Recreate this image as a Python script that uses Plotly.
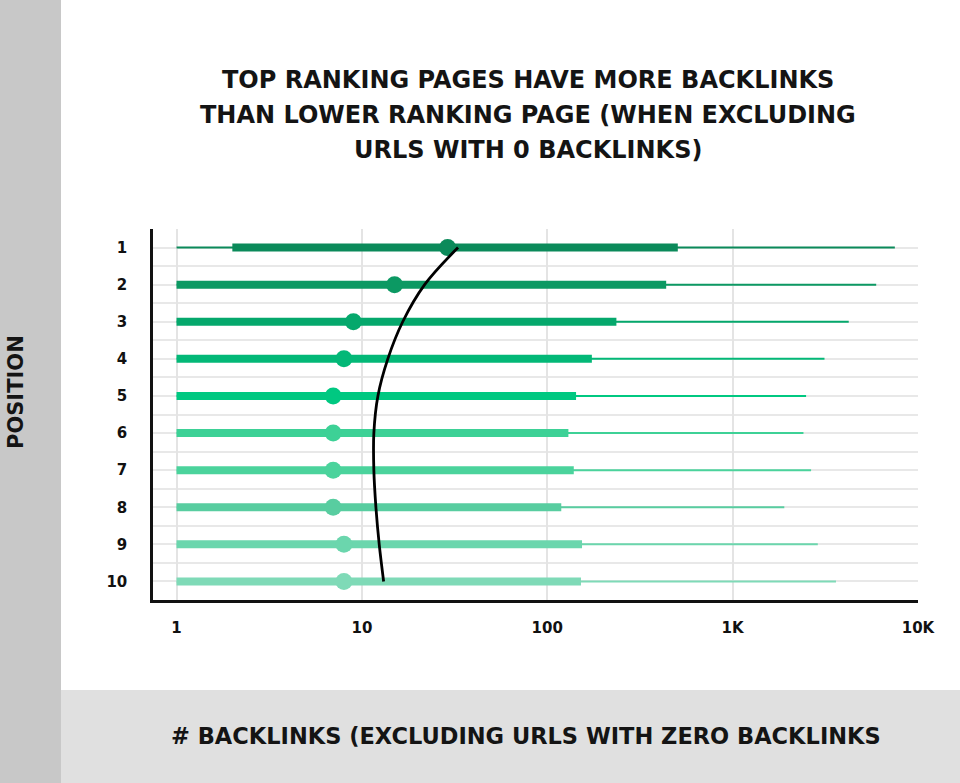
"""Backlinks by SERP position: range, IQR and median per position, log x axis."""

import plotly.graph_objects as go

WIDTH, HEIGHT = 960, 783

positions = [1, 2, 3, 4, 5, 6, 7, 8, 9, 10]
low = [1, 1, 1, 1, 1, 1, 1, 1, 1, 1]
q1 = [2, 1, 1, 1, 1, 1, 1, 1, 1, 1]
median = [29, 15, 9, 8, 7, 7, 7, 7, 8, 8]
q3 = [506, 438, 236, 174, 143, 130, 139, 119, 154, 152]
high = [7500, 5950, 4230, 3130, 2490, 2410, 2650, 1900, 2880, 3610]
trend = [33, 21.8, 16.6, 13.8, 12.2, 11.6, 11.6, 11.9, 12.4, 13.1]

row_colors = [
    "#0b8a5a", "#0c9963", "#05a86c", "#03b877", "#00c881",
    "#3dd196", "#4bd39c", "#58cda0", "#6bd6ad", "#7fdab7",
]

x_tickvals = [1, 10, 100, 1000, 10000]
x_ticktext = ["1", "10", "100", "1K", "10K"]

title_lines = [
    "TOP RANKING PAGES HAVE MORE BACKLINKS",
    "THAN LOWER RANKING PAGE (WHEN EXCLUDING",
    "URLS WITH 0 BACKLINKS)",
]
x_title = "# BACKLINKS (EXCLUDING URLS WITH ZERO BACKLINKS"
y_title = "POSITION"

# plot area in pixels
M_L, M_R, M_T, M_B = 153, 42, 229, 183
PLOT_W = WIDTH - M_L - M_R
PLOT_H = HEIGHT - M_T - M_B

FONT = "DejaVu Sans"
INK = "#141414"


def px_x(px):
    return (px - M_L) / PLOT_W


def px_y(py):
    return (HEIGHT - M_B - py) / PLOT_H


fig = go.Figure()

for i, pos in enumerate(positions):
    c = row_colors[i]
    fig.add_trace(go.Scatter(
        x=[low[i], high[i]], y=[pos, pos], mode="lines",
        line=dict(color=c, width=2), hoverinfo="skip",
    ))
    fig.add_trace(go.Scatter(
        x=[q1[i], q3[i]], y=[pos, pos], mode="lines",
        line=dict(color=c, width=8), hoverinfo="skip",
    ))
    fig.add_trace(go.Scatter(
        x=[median[i]], y=[pos], mode="markers",
        marker=dict(color=c, size=17), hoverinfo="skip",
    ))

fig.add_trace(go.Scatter(
    x=trend, y=positions, mode="lines",
    line=dict(color="black", width=2.8, shape="spline", smoothing=1.0),
    hoverinfo="skip",
))

shapes = [
    # left grey band
    dict(type="rect", xref="paper", yref="paper", layer="below",
         x0=px_x(0), x1=px_x(61), y0=px_y(HEIGHT), y1=px_y(0),
         fillcolor="#c8c8c8", line_width=0),
    # bottom grey band
    dict(type="rect", xref="paper", yref="paper", layer="below",
         x0=px_x(61), x1=px_x(WIDTH), y0=px_y(HEIGHT), y1=px_y(690),
         fillcolor="#e0e0e0", line_width=0),
]

annotations = []
for k, line in enumerate(title_lines):
    annotations.append(dict(
        text=line, xref="paper", yref="paper", x=px_x(528), y=px_y(80 + 35 * k),
        xanchor="center", yanchor="middle", showarrow=False,
        font=dict(family=FONT, size=24, color=INK, weight="bold"),
    ))
annotations.append(dict(
    text=x_title, xref="paper", yref="paper", x=px_x(526), y=px_y(736),
    xanchor="center", yanchor="middle", showarrow=False,
    font=dict(family=FONT, size=22.5, color=INK, weight="bold"),
))
annotations.append(dict(
    text=y_title, xref="paper", yref="paper", x=px_x(16), y=px_y(392),
    xanchor="center", yanchor="middle", showarrow=False, textangle=-90,
    font=dict(family=FONT, size=21, color=INK, weight="bold"),
))

fig.update_layout(
    width=WIDTH, height=HEIGHT,
    margin=dict(l=M_L, r=M_R, t=M_T, b=M_B),
    paper_bgcolor="white", plot_bgcolor="white",
    showlegend=False,
    shapes=shapes,
    annotations=annotations,
    xaxis=dict(
        type="log", range=[-0.127, 4.0],
        tickvals=x_tickvals, ticktext=x_ticktext,
        showgrid=True, gridcolor="#e4e4e4", gridwidth=1.5,
        showline=True, linecolor="#111", linewidth=2.5,
        ticks="", ticklabelstandoff=12, zeroline=False,
        tickfont=dict(family=FONT, size=15, color="#111", weight="bold"),
    ),
    yaxis=dict(
        range=[10.5, 0.5], tickvals=positions,
        showgrid=True, gridcolor="#e8e8e8", gridwidth=1.5,
        minor=dict(tickvals=[p + 0.5 for p in [0] + positions], showgrid=True,
                   gridcolor="#e8e8e8", gridwidth=1.5),
        showline=True, linecolor="#111", linewidth=2.5,
        ticks="", ticklabelstandoff=20, zeroline=False,
        tickfont=dict(family=FONT, size=15, color="#111", weight="bold"),
    ),
)

# drop the browser's default body margin so the figure fills the window
fig.write_html(
    "out.html",
    config={"displayModeBar": False},
    post_script="document.body.style.margin='0';",
)
